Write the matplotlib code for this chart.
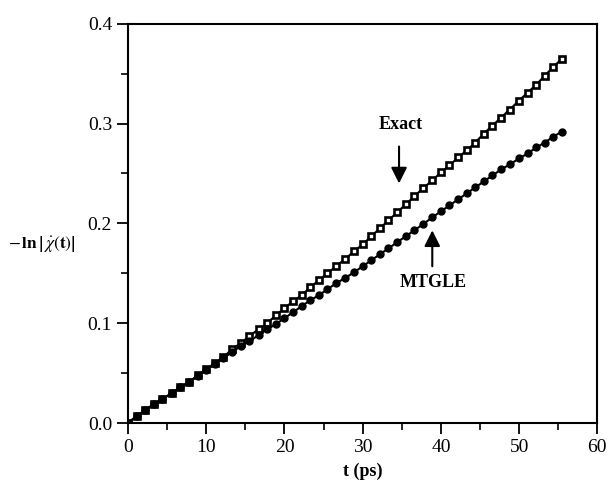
import matplotlib.pyplot as plt
from matplotlib.ticker import MultipleLocator, FormatStrFormatter

plt.rcParams['font.family'] = ['Liberation Serif', 'DejaVu Serif']
plt.rcParams['mathtext.fontset'] = 'stix'

# time grid (ps)
t = [0.0, 1.1, 2.2, 3.3, 4.4, 5.6, 6.7, 7.8, 8.9, 10.0,
     11.1, 12.2, 13.3, 14.4, 15.5, 16.7, 17.8, 18.9, 20.0, 21.1,
     22.2, 23.3, 24.4, 25.5, 26.6, 27.7, 28.9, 30.0, 31.1, 32.2,
     33.3, 34.4, 35.5, 36.6, 37.7, 38.9, 40.0, 41.1, 42.2, 43.3,
     44.4, 45.5, 46.6, 47.7, 48.8, 50.0, 51.1, 52.2, 53.3, 54.4, 55.5]

# exact result
exact = [0.000, 0.007, 0.013, 0.019, 0.024, 0.030, 0.036, 0.041, 0.048, 0.054,
         0.060, 0.066, 0.074, 0.080, 0.087, 0.094, 0.100, 0.108, 0.115, 0.122,
         0.128, 0.136, 0.143, 0.150, 0.157, 0.164, 0.172, 0.179, 0.187, 0.195,
         0.203, 0.211, 0.219, 0.227, 0.235, 0.243, 0.251, 0.258, 0.266, 0.273,
         0.281, 0.290, 0.298, 0.306, 0.314, 0.323, 0.331, 0.339, 0.348, 0.357, 0.365]

# MTGLE result
mtgle = [0.000, 0.007, 0.013, 0.019, 0.024, 0.030, 0.036, 0.041, 0.047, 0.053,
         0.059, 0.065, 0.071, 0.077, 0.082, 0.088, 0.094, 0.099, 0.105, 0.111,
         0.117, 0.123, 0.128, 0.134, 0.140, 0.145, 0.151, 0.157, 0.163, 0.169,
         0.175, 0.181, 0.187, 0.193, 0.199, 0.206, 0.212, 0.218, 0.224, 0.230,
         0.236, 0.242, 0.248, 0.254, 0.259, 0.265, 0.270, 0.276, 0.281, 0.287, 0.292]

fig = plt.figure(figsize=(6.07, 4.84), dpi=100)
ax = fig.add_axes([0.211, 0.126, 0.773, 0.825])

ax.plot(t, exact, color='black', lw=1.5, marker='s', markersize=4.8,
        markerfacecolor='white', markeredgecolor='black', markeredgewidth=1.9)
ax.plot(t, mtgle, color='black', lw=1.5, marker='o', markersize=5,
        markerfacecolor='black', markeredgecolor='black')

ax.set_xlim(0, 60)
ax.set_ylim(0, 0.4)
ax.xaxis.set_major_locator(MultipleLocator(10))
ax.xaxis.set_minor_locator(MultipleLocator(5))
ax.yaxis.set_major_locator(MultipleLocator(0.1))
ax.yaxis.set_minor_locator(MultipleLocator(0.05))
ax.yaxis.set_major_formatter(FormatStrFormatter('%.1f'))
ax.tick_params(which='major', direction='out', length=8, width=1.3, labelsize=14)
ax.tick_params(which='minor', direction='out', length=5, width=1.2)
for s in ax.spines.values():
    s.set_linewidth(1.5)

ax.set_xlabel('t (ps)', fontsize=13, fontweight='bold', labelpad=5)
fig.text(0.069, 0.496, r'$-\,\mathbf{ln}\,\left|\,\dot{\chi}(\mathbf{t})\right|$',
         fontsize=12.5, ha='center', va='center')

# arrows pointing at each curve
ax.text(34.9, 0.299, 'Exact', fontsize=13, fontweight='bold',
        ha='center', va='center')
ax.annotate('', xy=(34.65, 0.240), xytext=(34.65, 0.277),
            arrowprops=dict(arrowstyle='-|>', color='black', lw=1.5,
                            mutation_scale=24, shrinkA=0, shrinkB=0))
ax.text(39.0, 0.141, 'MTGLE', fontsize=13, fontweight='bold',
        ha='center', va='center')
ax.annotate('', xy=(38.9, 0.193), xytext=(38.9, 0.157),
            arrowprops=dict(arrowstyle='-|>', color='black', lw=1.5,
                            mutation_scale=24, shrinkA=0, shrinkB=0))

fig.savefig('out.png', dpi=100)
